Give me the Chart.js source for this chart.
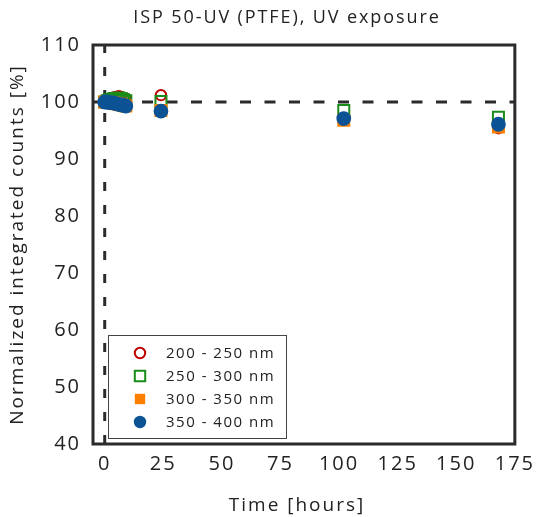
<!DOCTYPE html>
<html>
<head>
<meta charset="utf-8">
<script src="https://cdn.jsdelivr.net/npm/chart.js@4.4.1/dist/chart.umd.min.js"></script>
<style>
  html, body { margin: 0; padding: 0; background: #fff; }
  #wrap { width: 543px; height: 517px; }
</style>
</head>
<body>
<div id="wrap"><canvas id="chart"></canvas></div>
<script>
// ---- data ----
const timeHours = [0, 1, 2, 3, 4, 5, 6, 7, 8, 9, 24, 102, 168];
const nm200to250 = [100, 100.4, 100.6, 100.7, 100.8, 100.9, 101.0, 100.9, 100.7, 100.6, 101.2, 97.2, 95.4];
const nm250to300 = [100, 100.2, 100.4, 100.5, 100.6, 100.6, 100.7, 100.6, 100.4, 100.2, 100.1, 98.5, 97.3];
const nm300to350 = [100, 100.0, 99.9, 99.9, 99.8, 99.7, 99.6, 99.5, 99.4, 99.3, 98.5, 96.8, 95.6];
const nm350to400 = [100, 100.0, 99.9, 99.9, 99.8, 99.7, 99.6, 99.5, 99.4, 99.3, 98.4, 97.1, 96.1];

const xTicks = [0, 25, 50, 75, 100, 125, 150, 175];
const yTicks = [40, 50, 60, 70, 80, 90, 100, 110];
const refLevel = 100;

const FONT = "'Open Sans', 'Liberation Sans', sans-serif";
const TEXT = '#222';

function toPoints(values) {
    return values.map((v, i) => ({ x: timeHours[i], y: v }));
}

// Series definitions (legend order); drawing order set via `order` so blue ends on top
const series = [
    { label: '200 - 250 nm', data: nm200to250, style: 'circle', fill: false, color: '#c00000', order: 4 },
    { label: '250 - 300 nm', data: nm250to300, style: 'rect', fill: false, color: '#1a8c1a', order: 3 },
    { label: '300 - 350 nm', data: nm300to350, style: 'rect', fill: true, color: '#ff8000', order: 2 },
    { label: '350 - 400 nm', data: nm350to400, style: 'circle', fill: true, color: '#0b5394', order: 1 }
];

const datasets = series.map(s => ({
    label: s.label,
    data: toPoints(s.data),
    showLine: false,
    order: s.order,
    pointStyle: s.style,
    pointRadius: s.style === 'rect' ? 7.8 : (s.fill ? 6.4 : 5.2),
    pointBorderWidth: 2,
    pointBorderColor: s.color,
    pointBackgroundColor: s.fill ? s.color : 'rgba(255,255,255,0)'
}));

// reference lines at 100 % and t = 0
datasets.push({
    label: '',
    data: [{ x: -5, y: refLevel }, { x: 175, y: refLevel }],
    showLine: true,
    borderColor: '#2b2b2b',
    borderWidth: 3,
    borderDash: [11, 13.5],
    pointRadius: 0,
    order: 10
});
datasets.push({
    label: '',
    data: [{ x: 0, y: 40 }, { x: 0, y: 110 }],
    showLine: true,
    borderColor: '#2b2b2b',
    borderWidth: 3,
    borderDash: [9, 14],
    pointRadius: 0,
    order: 10
});

// letter spacing, frame, titles and in-plot legend
const decorPlugin = {
    id: 'decor',
    beforeUpdate(chart) { chart.ctx.letterSpacing = '2px'; },
    beforeDraw(chart) { chart.ctx.letterSpacing = '2px'; },
    afterDraw(chart) {
        const { ctx, chartArea: a } = chart;
        ctx.save();
        // plot frame
        ctx.strokeStyle = '#2b2b2b';
        ctx.lineWidth = 3;
        ctx.strokeRect(a.left, a.top, a.right - a.left, a.bottom - a.top);

        ctx.fillStyle = TEXT;
        ctx.textAlign = 'center';
        ctx.textBaseline = 'middle';
        ctx.letterSpacing = '1.9px';
        ctx.font = `18px ${FONT}`;
        ctx.fillText('ISP 50-UV (PTFE), UV exposure', 287, 18);
        ctx.font = `19px ${FONT}`;
        ctx.letterSpacing = '2px';
        ctx.fillText('Time [hours]', 297, 506);

        // legend box
        const bx = a.left + 15, by = a.bottom - 109, bw = 178, bh = 103;
        ctx.fillStyle = '#fff';
        ctx.fillRect(bx, by, bw, bh);
        ctx.strokeStyle = '#444';
        ctx.lineWidth = 1;
        ctx.strokeRect(bx + 0.5, by + 0.5, bw, bh);
        ctx.font = `15px ${FONT}`;
        ctx.letterSpacing = '1.5px';
        ctx.textAlign = 'left';
        series.forEach((s, i) => {
            const cx = bx + 32, cy = by + 18 + i * 23;
            ctx.lineWidth = 2;
            ctx.strokeStyle = s.color;
            ctx.fillStyle = s.color;
            ctx.beginPath();
            if (s.style === 'circle') {
                ctx.arc(cx, cy, s.fill ? 6.2 : 5.2, 0, Math.PI * 2);
            } else {
                ctx.rect(cx - 5.2, cy - 5.2, 10.4, 10.4);
            }
            if (s.fill) ctx.fill(); else ctx.stroke();
            ctx.fillStyle = TEXT;
            ctx.fillText(s.label, bx + 58, cy + 1);
        });
        ctx.restore();
    }
};

new Chart(document.getElementById('chart'), {
    type: 'scatter',
    data: { datasets },
    options: {
        responsive: true,
        maintainAspectRatio: false,
        animation: false,
        layout: { padding: { top: 45, right: 24, left: 0, bottom: 0 } },
        plugins: {
            legend: { display: false },
            title: { display: false },
            tooltip: { enabled: false }
        },
        scales: {
            x: {
                type: 'linear',
                min: -5,
                max: 175,
                afterBuildTicks: scale => { scale.ticks = xTicks.map(v => ({ value: v })); },
                afterFit: scale => { scale.height = 73; },
                grid: { display: false, drawTicks: false },
                border: { display: false },
                ticks: { color: TEXT, font: { family: FONT, size: 20 }, padding: 8, maxRotation: 0 }
            },
            y: {
                min: 40,
                max: 110,
                afterBuildTicks: scale => { scale.ticks = yTicks.map(v => ({ value: v })); },
                afterFit: scale => { scale.width = 93; },
                grid: { display: false, drawTicks: false },
                border: { display: false },
                ticks: { color: TEXT, font: { family: FONT, size: 20 }, padding: 12 },
                title: {
                    display: true,
                    text: 'Normalized integrated counts [%]',
                    color: TEXT,
                    font: { family: FONT, size: 19 },
                    padding: { top: 6, bottom: 0 }
                }
            }
        }
    },
    plugins: [decorPlugin]
});
</script>
</body>
</html>
